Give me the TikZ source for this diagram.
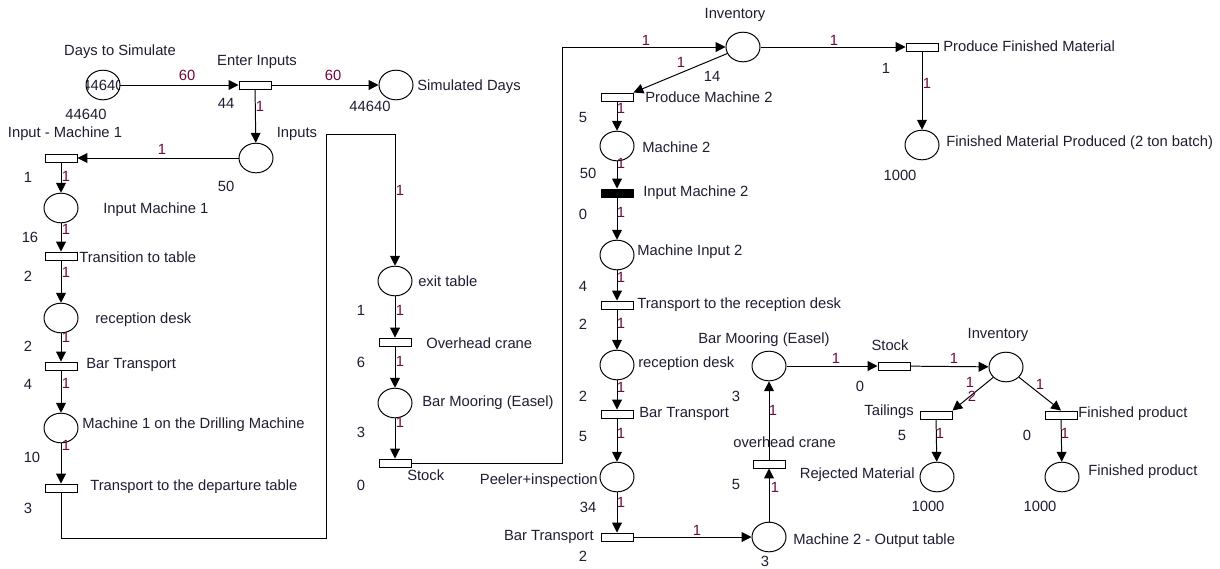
\documentclass[tikz,border=0pt]{standalone}
\usepackage{fontspec}
\setmainfont{Liberation Sans}
\usetikzlibrary{shapes.geometric,arrows.meta}
\definecolor{PNText}{HTML}{1E1E32}
\definecolor{PNWeight}{HTML}{6E0A3C}

\tikzset{
  place/.style={draw,ellipse,minimum width=0.85cm,minimum height=0.74cm,inner sep=0pt,line width=0.7pt},
  trans/.style={draw,rectangle,minimum width=0.8cm,minimum height=0.2cm,inner sep=0pt,line width=0.7pt,fill=white},
  arc/.style={line width=0.7pt,-{Triangle[length=7pt,width=7pt]}},
  lbl/.style={font=\fontsize{10.5}{12}\selectfont,text=PNText,inner sep=0pt},
  wt/.style={font=\fontsize{10.5}{12}\selectfont,text=PNWeight,inner sep=0pt},
}

\begin{document}
\begin{tikzpicture}[x=0.025cm,y=-0.025cm]
\path[use as bounding box] (0,0) rectangle (1220,568);
\fill[white] (0,0) rectangle (1220,568);

% places and transitions, left part
\node[place,path picture={\node[lbl] at (path picture bounding box.center) {44640};}] (days) at (103,85) {};
\node[trans] (enter) at (255,85) {};
\node[place] (simd) at (396,85) {};
\node[place] (inputs) at (256,158) {};
\node[trans] (tinm1) at (61,158) {};
\node[place] (inm1) at (61,208) {};
\node[trans] (ttable) at (61,256) {};
\node[place] (recd1) at (61,318) {};
\node[trans] (bar1) at (61,366) {};
\node[place] (drill) at (61,428) {};
\node[trans] (tdep) at (61,488) {};
\coordinate (dk1) at (326,538);
\coordinate (dk2) at (395,134);

% middle column
\node[place] (exit) at (395,281) {};
\node[trans] (crane1) at (395,342) {};
\node[place] (moor1) at (395,403) {};
\node[trans] (stock1) at (395,463) {};
\coordinate (sk) at (562,47);

% right column
\node[place] (inv1) at (743,47) {};
\node[trans] (pfm) at (922,47) {};
\node[place] (fmp) at (922,145) {};
\node[trans] (pm2) at (617,97) {};
\node[place] (m2) at (617,146) {};
\node[trans,fill=black] (im2) at (617,193) {};
\node[place] (mi2) at (617,255) {};
\node[trans] (trd) at (617,305) {};
\node[place] (recd2) at (617,365) {};
\node[trans] (bar2) at (617,414) {};
\node[place] (peel) at (617,477) {};
\node[trans] (bar3) at (617,537) {};
\node[place] (m2out) at (769,537) {};
\node[trans] (crane2) at (769,464) {};
\node[place] (moor2) at (769,366) {};
\node[trans] (stock2) at (894,366) {};
\node[place] (inv2) at (1006,367) {};
\node[trans] (tail) at (936,415) {};
\node[trans] (fpt) at (1061,415) {};
\node[place] (rejm) at (937,477) {};
\node[place] (fpp) at (1062,477) {};

% arcs
\draw[arc] (days) -- (enter);
\draw[arc] (enter) -- (simd);
\draw[arc] (enter) -- (inputs);
\draw[arc] (inputs) -- (tinm1);
\draw[arc] (tinm1) -- (inm1);
\draw[arc] (inm1) -- (ttable);
\draw[arc] (ttable) -- (recd1);
\draw[arc] (recd1) -- (bar1);
\draw[arc] (bar1) -- (drill);
\draw[arc] (drill) -- (tdep);
\draw[arc] (tdep.south) |- (dk1) |- (dk2) -- (exit.north);
\draw[arc] (exit) -- (crane1);
\draw[arc] (crane1) -- (moor1);
\draw[arc] (moor1) -- (stock1);
\draw[arc] (stock1.east) -| (sk) -- (inv1.west);
\draw[arc] (inv1) -- (pm2.north east);
\draw[arc] (inv1) -- (pfm);
\draw[arc] (pfm) -- (fmp);
\draw[arc] (pm2) -- (m2);
\draw[arc] (m2) -- (im2);
\draw[arc] (im2) -- (mi2);
\draw[arc] (mi2) -- (trd);
\draw[arc] (trd) -- (recd2);
\draw[arc] (recd2) -- (bar2);
\draw[arc] (bar2) -- (peel);
\draw[arc] (peel) -- (bar3);
\draw[arc] (bar3) -- (m2out);
\draw[arc] (m2out) -- (crane2);
\draw[arc] (crane2) -- (moor2);
\draw[arc] (moor2) -- (stock2);
\draw[arc] (stock2) -- (inv2);
\draw[arc] (inv2) -- (tail.north east);
\draw[arc] (inv2) -- (fpt.north);
\draw[arc] (tail) -- (rejm);
\draw[arc] (fpt) -- (fpp);

% names
\node[lbl] (nDays) at (120,52) {Days to Simulate};
\node[lbl] (nEnter) at (257,62) {Enter Inputs};
\node[lbl,anchor=west] (nSimd) at (417,87) {Simulated Days};
\node[lbl] (nInputs) at (297,134) {Inputs};
\node[lbl] (nTinm1) at (65,134) {Input - Machine 1};
\node[lbl,anchor=west] (nInm1) at (103,210) {Input Machine 1};
\node[lbl,anchor=west] (nTtable) at (79,257) {Transition to table};
\node[lbl,anchor=west] (nRecd1) at (95,320) {reception desk};
\node[lbl,anchor=west] (nBar1) at (86,365) {Bar Transport};
\node[lbl,anchor=west] (nDrill) at (82,425) {Machine 1 on the Drilling Machine};
\node[lbl,anchor=west] (nTdep) at (90,487) {Transport to the departure table};
\node[lbl,anchor=west] (nExit) at (418,281) {exit table};
\node[lbl,anchor=west] (nCrane1) at (426,343) {Overhead crane};
\node[lbl,anchor=west] (nMoor1) at (422,403) {Bar Mooring (Easel)};
\node[lbl,anchor=west] (nStock1) at (407,475) {Stock};
\node[lbl] (nInv1) at (735,15) {Inventory};
\node[lbl,anchor=west] (nPfm) at (943,46) {Produce Finished Material};
\node[lbl,anchor=west] (nFmp) at (946,143) {Finished Material Produced (2 ton batch)};
\node[lbl,anchor=west] (nPm2) at (645,97) {Produce Machine 2};
\node[lbl,anchor=west] (nM2) at (642,147) {Machine 2};
\node[lbl,anchor=west] (nIm2) at (643,193) {Input Machine 2};
\node[lbl,anchor=west] (nMi2) at (637,252) {Machine Input 2};
\node[lbl,anchor=west] (nTrd) at (637,305) {Transport to the reception desk};
\node[lbl,anchor=west] (nRecd2) at (638,364) {reception desk};
\node[lbl,anchor=west] (nBar2) at (639,414) {Bar Transport};
\node[lbl,anchor=east] (nPeel) at (598,481) {Peeler+inspection};
\node[lbl,anchor=east] (nBar3) at (594,537) {Bar Transport};
\node[lbl,anchor=west] (nM2out) at (793,541) {Machine 2 - Output table};
\node[lbl,anchor=west] (nCrane2) at (733,442) {overhead crane};
\node[lbl,anchor=west] (nMoor2) at (698,340) {Bar Mooring (Easel)};
\node[lbl] (nStock2) at (890,345) {Stock};
\node[lbl] (nInv2) at (998,335) {Inventory};
\node[lbl,anchor=east] (nTail) at (914,412) {Tailings};
\node[lbl,anchor=west] (nFpt) at (1078,414) {Finished product};
\node[lbl,anchor=east] (nRejm) at (915,475) {Rejected Material};
\node[lbl,anchor=west] (nFpp) at (1088,472) {Finished product};

% counts
\foreach \x/\y/\t [count=\i] in {86/114/44640, 226/103/44, 370/106/44640, 226/186/50,
    28/177/1, 30/237/16, 28/276/2, 28/346/2, 28/384/4, 32/457/10, 28/508/3,
    361/310/1, 361/362/6, 361/432/3, 361/485/0,
    712/76/14, 886/68/1, 900/175/1000,
    583/117/5, 588/173/50, 583/214/0, 583/286/4, 583/324/2, 583/396/2, 583/436/5,
    588/507/34, 583/556/2, 765/561/3, 736/484/5, 736/396/3,
    860/386/0, 902/435/5, 1027/435/0, 928/506/1000, 1040/506/1000}
  \node[lbl] (c\i) at (\x,\y) {\t};

% arc weights
\foreach \x/\y/\t [count=\i] in {187/75/60, 333/75/60, 260/106/1, 162/149/1,
    66/176/1, 66/229/1, 66/272/1, 66/337/1, 66/383/1, 66/445/1,
    400/190/1, 400/310/1, 400/361/1, 400/422/1,
    646/40/1, 681/62/1, 834/40/1, 927/83/1,
    621/108/1, 621/163/1, 621/212/1, 621/277/1, 621/323/1, 621/387/1, 621/433/1, 621/502/1,
    697/530/1, 775/487/1, 773/410/1, 836/358/1, 954/358/1,
    970/382/1, 972/396/2, 1040/384/1, 940/433/1, 1065/433/1}
  \node[wt] (w\i) at (\x,\y) {\t};
\end{tikzpicture}
\end{document}
